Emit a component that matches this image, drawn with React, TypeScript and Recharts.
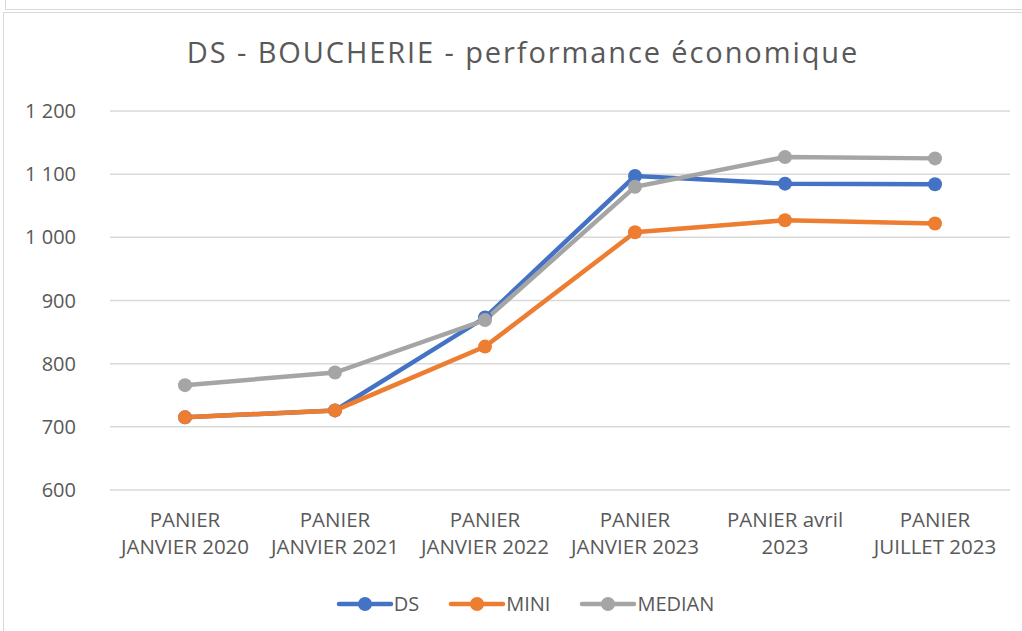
import { CartesianGrid, Legend, Line, LineChart, XAxis, YAxis } from "recharts";

const categories = [
  "PANIER|JANVIER 2020",
  "PANIER|JANVIER 2021",
  "PANIER|JANVIER 2022",
  "PANIER|JANVIER 2023",
  "PANIER avril|2023",
  "PANIER|JUILLET 2023",
];
const ds = [715, 726, 873, 1097, 1085, 1084];
const mini = [715, 726, 827, 1008, 1027, 1022];
const median = [766, 786, 869, 1080, 1127, 1125];
const yTicks = [600, 700, 800, 900, 1000, 1100, 1200];

const series = [
  { key: "DS", color: "#4472C4" },
  { key: "MINI", color: "#ED7D31" },
  { key: "MEDIAN", color: "#A5A5A5" },
];

const data = categories.map((c, i) => ({
  name: c,
  DS: ds[i],
  MINI: mini[i],
  MEDIAN: median[i],
}));

const font = "'Open Sans', sans-serif";

const fmt = (v: number) => (v >= 1000 ? `1 ${String(v).slice(1)}` : String(v));

const XTick = (props: any) => {
  const { x, y, payload } = props;
  const lines = String(payload.value).split("|");
  return (
    <g>
      {lines.map((l: string, i: number) => (
        <text
          key={i}
          x={x}
          y={y + 29 + i * 27}
          textAnchor="middle"
          fill="#595959"
          fontSize={20.5}
          fontFamily={font}
        >
          {l}
        </text>
      ))}
    </g>
  );
};

const LegendContent = () => (
  <div style={{ display: "flex", justifyContent: "center", gap: 29, fontFamily: font, paddingLeft: 40 }}>
    {series.map((s) => (
      <div key={s.key} style={{ display: "flex", alignItems: "center" }}>
        <svg width={58} height={16}>
          <line x1={3} y1={8} x2={55} y2={8} stroke={s.color} strokeWidth={4.5} strokeLinecap="round" />
          <circle cx={29} cy={8} r={7} fill={s.color} />
        </svg>
        <span style={{ fontSize: 20, color: "#595959" }}>{s.key}</span>
      </div>
    ))}
  </div>
);

export default function App() {
  return (
    <div style={{ position: "absolute", left: 0, top: 0, width: 1022, height: 631, background: "#fff", overflow: "hidden" }}>
      <div style={{ position: "absolute", left: 5, top: -2, width: 1030, height: 10, border: "1px solid #D9D9D9" }} />
      <div style={{ position: "absolute", left: 3, top: 12, width: 1030, height: 640, border: "1px solid #D9D9D9" }} />
      <svg style={{ position: "absolute", left: 0, top: 0 }} width={1022} height={100}>
        <text
          x={523}
          y={63}
          textAnchor="middle"
          fontFamily={font}
          fontSize={29}
          fill="#595959"
          letterSpacing={1.9}
        >
          DS - BOUCHERIE - performance économique
        </text>
      </svg>
      <div style={{ position: "absolute", left: 0, top: 0 }}>
        <LineChart width={1022} height={631} data={data} margin={{ top: 111, right: 12, left: 0, bottom: 10 }}>
          <CartesianGrid vertical={false} stroke="#D9D9D9" strokeWidth={1.5} />
          <XAxis
            dataKey="name"
            axisLine={false}
            tickLine={false}
            tick={<XTick />}
            interval={0}
            height={104}
            padding={{ left: 75, right: 75 }}
          />
          <YAxis
            domain={[600, 1200]}
            ticks={yTicks}
            width={110}
            axisLine={false}
            tickLine={false}
            tickMargin={28}
            tickFormatter={fmt}
            tick={{ fill: "#595959", fontSize: 20, fontFamily: font }}
          />
          <Legend verticalAlign="bottom" content={<LegendContent />} wrapperStyle={{ bottom: 14 }} />
          {series.map((s) => (
            <Line
              key={s.key}
              dataKey={s.key}
              stroke={s.color}
              strokeWidth={4.5}
              dot={{ r: 7, fill: s.color, stroke: s.color, strokeWidth: 0 }}
              isAnimationActive={false}
              type="linear"
            />
          ))}
        </LineChart>
      </div>
    </div>
  );
}
